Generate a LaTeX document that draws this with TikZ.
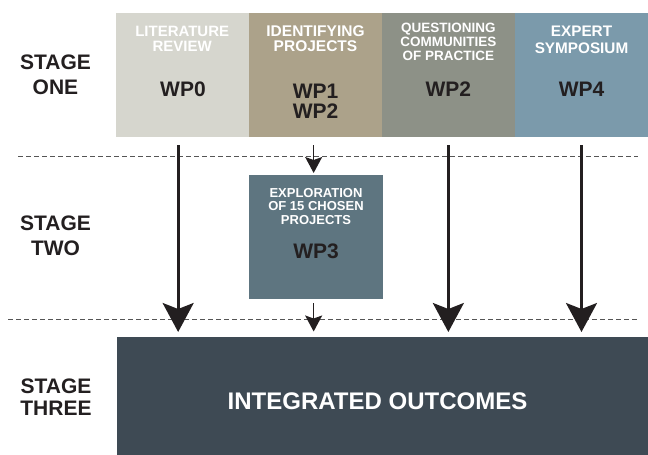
\documentclass[tikz,border=0pt]{standalone}
\usepackage{fontspec}
\setmainfont{Liberation Sans}
\usetikzlibrary{arrows.meta}
\definecolor{cLit}{HTML}{D6D6CE}
\definecolor{cIde}{HTML}{ACA28A}
\definecolor{cQue}{HTML}{8D9187}
\definecolor{cExp}{HTML}{7B9AAB}
\definecolor{cWPthree}{HTML}{5E7580}
\definecolor{cOut}{HTML}{3E4A54}
\definecolor{ink}{HTML}{231F20}
\definecolor{dashgray}{HTML}{555555}
\begin{document}
\begin{tikzpicture}[x=1pt,y=-1pt,
  box/.style={draw=none, inner sep=0pt, outer sep=0pt, anchor=north west},
  stagelbl/.style={text=ink, align=center, inner sep=0pt, font=\fontsize{21}{25}\selectfont\bfseries},
  toplbl/.style={text=white, align=center, inner sep=0pt, font=\fontsize{15}{15}\selectfont\bfseries},
  wplbl/.style={text=ink, align=center, inner sep=0pt, font=\fontsize{21}{20}\selectfont\bfseries},
  dashline/.style={draw=dashgray, line width=1pt, dash pattern=on 5pt off 3pt},
  bigarrow/.style={draw=ink, line width=2.7pt, -{Stealth[length=29pt,width=31pt,inset=6pt]}},
  smallarrow/.style={draw=ink, line width=1.5pt, -{Stealth[length=16pt,width=17pt,inset=3pt]}}
]
\useasboundingbox (0,0) rectangle (648,455);

% top boxes
\node[box, fill=cLit, minimum width=133.3pt, minimum height=124.6pt] (b1) at (116,12.7) {};
\node[box, fill=cIde, minimum width=132.4pt, minimum height=124.6pt] (b2) at (249.3,12.7) {};
\node[box, fill=cQue, minimum width=133.3pt, minimum height=124.6pt] (b3) at (381.7,12.7) {};
\node[box, fill=cExp, minimum width=133pt, minimum height=124.6pt] (b4) at (515,12.7) {};
% stage two box
\node[box, fill=cWPthree, minimum width=134.3pt, minimum height=124.3pt] (w3) at (249,175) {};
% outcomes
\node[box, fill=cOut, minimum width=531.5pt, minimum height=118pt] (out) at (116.5,337) {};

% labels in top boxes
\node[toplbl] (t1) at (182.2,38.8) {LITERATURE\\REVIEW};
\node[toplbl, font=\fontsize{15.5}{15.5}\selectfont\bfseries] (t2) at (315.5,38.8) {IDENTIFYING\\PROJECTS};
\node[toplbl, font=\fontsize{13.5}{14}\selectfont\bfseries] (t3) at (448.3,42) {QUESTIONING\\COMMUNITIES\\OF PRACTICE};
\node[toplbl, font=\fontsize{15.3}{16.5}\selectfont\bfseries] (t4) at (581.5,39.8) {EXPERT\\SYMPOSIUM};

\node[wplbl] (p1) at (183,89) {WP0};
\node[wplbl] (p2) at (315.5,100.8) {WP1\\WP2};
\node[wplbl] (p3) at (448.3,89) {WP2};
\node[wplbl] (p4) at (581.5,89) {WP4};

\node[toplbl, font=\fontsize{13}{13.6}\selectfont\bfseries] (t5) at (316,206.3) {EXPLORATION\\OF 15 CHOSEN\\PROJECTS};
\node[wplbl] (p5) at (316,251.7) {WP3};

\node[text=white, inner sep=0pt, font=\fontsize{24}{28}\selectfont\bfseries] (o1) at (377.5,401) {INTEGRATED OUTCOMES};

% stage labels
\node[stagelbl] (s1) at (55.5,74.3) {STAGE\\ONE};
\node[stagelbl] (s2) at (55.5,235.5) {STAGE\\TWO};
\node[stagelbl, font=\fontsize{21}{22.7}\selectfont\bfseries] (s3) at (56,397.3) {STAGE\\THREE};

% dashed separators
\coordinate (d1a) at (18,156);
\coordinate (d1b) at (638,156);
\coordinate (d2a) at (8,319);
\coordinate (d2b) at (638,319);
\draw[dashline] (d1a) -- (d1b);
\draw[dashline] (d2a) -- (d2b);

% arrows
\draw[bigarrow, shorten <=8pt, shorten >=5pt] ([xshift=-4.5pt]b1.south) -- ([xshift=-4.5pt]out.north -| b1.south);
\draw[bigarrow, shorten <=8pt, shorten >=5pt] (b3.south) -- (out.north -| b3.south);
\draw[bigarrow, shorten <=8pt, shorten >=5pt] (b4.south) -- (out.north -| b4.south);
\draw[smallarrow, shorten <=8pt, shorten >=2pt] ([xshift=-2.5pt]w3.north |- b2.south) -- ([xshift=-2.5pt]w3.north);
\draw[smallarrow, shorten <=4pt, shorten >=5.5pt] ([xshift=-2.5pt]w3.south) -- ([xshift=-2.5pt]w3.south |- out.north);
\end{tikzpicture}
\end{document}
